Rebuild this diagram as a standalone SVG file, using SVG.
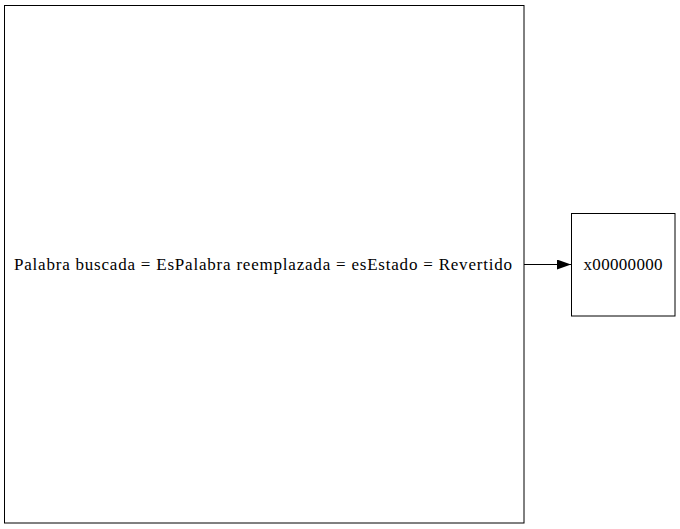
<svg xmlns="http://www.w3.org/2000/svg" width="680" height="529" viewBox="0 0 680 529">
<style>
.node{fill:#fff;stroke:#000;stroke-width:1}
.lbl{font-family:"Liberation Serif","Times New Roman",serif;font-size:17px;fill:#000;text-anchor:middle}
.edge{stroke:#000;stroke-width:1;fill:none}
</style>
<defs>
<marker id="arr" viewBox="0 0 14 10" refX="14" refY="5" markerWidth="14" markerHeight="10" markerUnits="userSpaceOnUse" orient="auto"><path d="M0,0 L14,5 L0,10 Z" fill="#000"/></marker>
</defs>
<rect width="680" height="529" fill="#fff"/>
<g id="node1">
<rect class="node" x="4.5" y="5.5" width="519.5" height="517.5"/>
<text class="lbl" x="263" y="270" textLength="498" lengthAdjust="spacing">Palabra buscada = EsPalabra reemplazada = esEstado = Revertido</text>
</g>
<g id="node2">
<rect class="node" x="571.5" y="213.5" width="103.5" height="102.5"/>
<text class="lbl" x="623" y="270" textLength="79" lengthAdjust="spacing">x00000000</text>
</g>
<g id="edges">
<path class="edge" d="M524,264.5 L571,264.5" marker-end="url(#arr)"/>
</g>
</svg>
